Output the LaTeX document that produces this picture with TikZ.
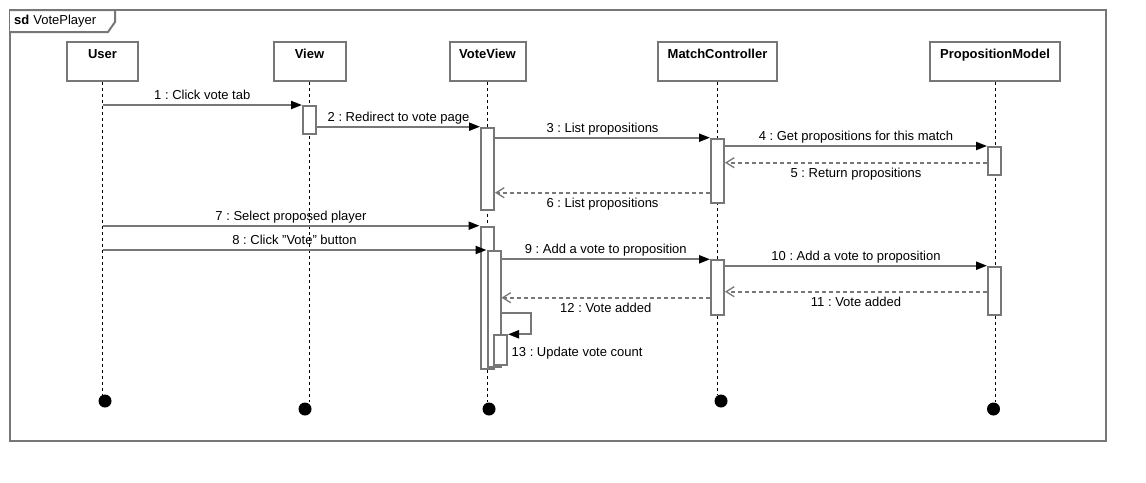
\documentclass[tikz,border=0pt]{standalone}
\usepackage{fontspec}
\setmainfont{Liberation Sans}
\usetikzlibrary{arrows.meta}
\definecolor{lgray}{HTML}{777777}
\begin{document}
\frenchspacing
\begin{tikzpicture}[x=1pt,y=-1pt,
  font=\fontsize{13}{15}\selectfont,
  frame/.style={draw=lgray, line width=2pt},
  head/.style={draw=lgray, line width=2pt, fill=white, minimum width=#1,
    minimum height=39pt, inner sep=0pt, text height=16.7pt, text depth=22.3pt,
    font=\fontsize{13}{15}\selectfont\bfseries},
  act/.style={draw=lgray, line width=2pt, fill=white, minimum width=13pt,
    minimum height=#1, inner sep=0pt, anchor=north},
  life/.style={draw=black, line width=1pt, dash pattern=on 3pt off 3pt},
  endc/.style={circle, fill=black, minimum size=13pt, inner sep=0pt},
  msg/.style={draw=lgray, line width=2pt, -{Triangle[length=11pt,width=8pt,color=black]}},
  ret/.style={draw=lgray, line width=2pt, dash pattern=on 4pt off 3pt,
    -{Straight Barb[length=8pt,width=10pt,line width=1.3pt,color=lgray]}},
  labup/.style={midway, anchor=base, inner sep=0pt, yshift=5.35pt},
  labdn/.style={midway, anchor=base, inner sep=0pt, yshift=-14.65pt}
]
\useasboundingbox (0,0) rectangle (1146,482);
\fill[white] (0,0) rectangle (1146,482);

% frame
\draw[frame] (10,10) rectangle (1106,441);
\draw[frame, fill=white] (10,10) -- (115,10) -- (115,22) -- (108,32) -- (10,32);
\node[anchor=base west, inner sep=0pt] (sdlabel) at (14,24.6) {\textbf{sd}\hspace{4pt}VotePlayer};

% end markers
\node[endc] (eU) at (105,401) {};
\node[endc] (eV) at (305,409) {};
\node[endc] (eVV) at (489,409) {};
\node[endc] (eMC) at (721,401) {};
\node[endc] (ePM) at (993.5,409) {};

% heads
\node[head=71pt] (user) at (102.5,61.5) {User};
\node[head=72pt] (view) at (309.5,61.5) {View};
\node[head=76pt] (vv) at (487.5,61.5) {VoteView};
\node[head=119pt] (mc) at (717.5,61.5) {MatchController};
\node[head=130pt] (pm) at (995,61.5) {PropositionModel};

% lifelines
\draw[life] (user.south) -- (user.south |- eU.north);
\draw[life] (view.south) -- (view.south |- eV.north);
\draw[life] (vv.south) -- (vv.south |- eVV.north);
\draw[life] (mc.south) -- (mc.south |- eMC.north);
\draw[life] (pm.south) -- (pm.south |- ePM.north);

% activations
\node[act=28.3pt] (aV) at (309.5,105) {};
\node[act=82.6pt] (aVV1) at (487.5,126.7) {};
\node[act=64pt] (aMC1) at (717.5,137.7) {};
\node[act=28pt] (aPM1) at (994.5,146) {};
\node[act=142.6pt] (aVV2) at (487,225.7) {};
\node[act=116pt] (aVV3) at (494,250) {};
\node[act=54.7pt] (aMC2) at (717.5,259.3) {};
\node[act=48.3pt] (aPM2) at (994.5,265.7) {};
\node[act=29.7pt] (aVV4) at (500.5,334.3) {};

% helper coordinates
\coordinate (y5) at (0,162.7);
\coordinate (y6) at (0,192.7);
\coordinate (y11) at (0,291.7);
\coordinate (y12) at (0,297.7);
\coordinate (s13) at (531,313.3);

% messages
\draw[msg] (user.south |- aV.north) -- (aV.north west) node[labup] (l1) {1 : Click vote tab};
\draw[msg] (aV.east |- aVV1.north) -- (aVV1.north west) node[labup] (l2) {2 : Redirect to vote page};
\draw[msg] (aVV1.east |- aMC1.north) -- (aMC1.north west) node[labup] (l3) {3 : List propositions};
\draw[msg] (aMC1.east |- aPM1.north) -- (aPM1.north west) node[labup] (l4) {4 : Get propositions for this match};
\draw[ret] (aPM1.west |- y5) -- (aMC1.east |- y5) node[labdn] (l5) {5 : Return propositions};
\draw[ret] (aMC1.west |- y6) -- (aVV1.east |- y6) node[labdn] (l6) {6 : List propositions};
\draw[msg] (user.south |- aVV2.north) -- (aVV2.north west) node[labup] (l7) {7 : Select proposed player};
\draw[msg] (user.south |- aVV3.north) -- (aVV3.north west) node[labup] (l8) {8 : Click "Vote" button};
\draw[msg] (aVV3.east |- aMC2.north) -- (aMC2.north west) node[labup] (l9) {9 : Add a vote to proposition};
\draw[msg] (aMC2.east |- aPM2.north) -- (aPM2.north west) node[labup] (l10) {10 : Add a vote to proposition};
\draw[ret] (aPM2.west |- y11) -- (aMC2.east |- y11) node[labdn] (l11) {11 : Vote added};
\draw[ret] (aMC2.west |- y12) -- (aVV3.east |- y12) node[labdn] (l12) {12 : Vote added};
\draw[msg] (aVV3.east |- s13) -- (s13) -- (s13 |- aVV4.north) -- (aVV4.north east);
\node[anchor=base west, inner sep=0pt] (l13) at (511.5,356.4) {13 : Update vote count};
\end{tikzpicture}
\end{document}
